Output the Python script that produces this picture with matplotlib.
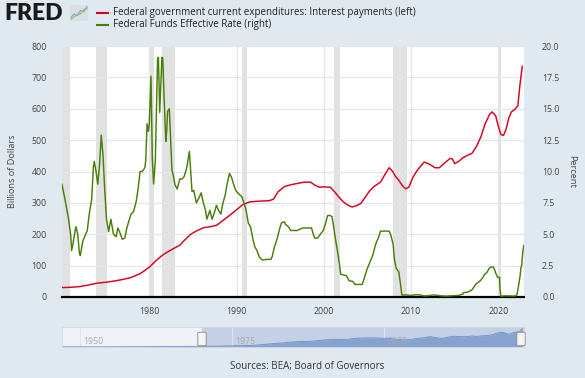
import matplotlib
matplotlib.use("Agg")
import matplotlib.pyplot as plt
from matplotlib.patches import FancyBboxPatch

plt.rcParams['font.family'] = ['Open Sans', 'DejaVu Sans']

# Federal government current expenditures: Interest payments (billions of $)
int_years = [1970.0, 1971.0, 1972.0, 1973.0, 1974.0, 1975.0, 1976.0, 1977.0, 1978.0, 1979.0,
             1980.0, 1980.75, 1981.5, 1982.0, 1982.75, 1983.5, 1984.0, 1984.75, 1985.5, 1986.25,
             1987.0, 1987.75, 1988.5, 1989.25, 1990.0, 1990.75, 1991.5, 1992.25, 1993.0, 1993.75,
             1994.25, 1994.75, 1995.5, 1996.25, 1997.0, 1997.75, 1998.5, 1999.0, 1999.5, 2000.0,
             2000.75, 2001.25, 2001.75, 2002.25, 2002.75, 2003.25, 2003.75, 2004.25, 2004.75, 2005.25,
             2005.75, 2006.5, 2007.0, 2007.5, 2007.9, 2008.2, 2008.6, 2009.0, 2009.4, 2009.75,
             2010.25, 2010.75, 2011.5, 2012.0, 2012.75, 2013.25, 2013.75, 2014.5, 2014.75, 2015.0,
             2015.5, 2015.9, 2016.5, 2017.0, 2017.5, 2018.0, 2018.5, 2019.0, 2019.3, 2019.7,
             2020.0, 2020.3, 2020.6, 2020.9, 2021.2, 2021.5, 2021.9, 2022.25, 2022.5, 2022.75]
int_values = [30, 31, 33, 38, 44, 47, 51, 56, 63, 75,
              95, 115, 133, 142, 154, 165, 180, 200, 212, 221,
              224, 229, 245, 261, 278, 295, 303, 305, 306, 307,
              312, 335, 352, 358, 362, 366, 366, 356, 350, 351,
              350, 335, 318, 303, 293, 287, 291, 298, 318, 338,
              352, 366, 390, 412, 400, 385, 372, 355, 345, 350,
              383, 405, 430, 425, 412, 412, 425, 442, 440, 425,
              433, 443, 452, 458, 480, 510, 552, 582, 590, 578,
              545, 518, 515, 535, 570, 590, 598, 610, 680, 735]

# earlier history, only shown in the range navigator
early_years = [1947, 1952, 1957, 1962, 1966, 1969]
early_values = [6, 7, 9, 12, 17, 27]

# Federal Funds Effective Rate (percent)
ffr_years = [1970.0, 1970.25, 1970.5, 1970.75, 1971.0, 1971.1, 1971.25, 1971.5, 1971.6, 1971.8,
             1972.0, 1972.1, 1972.4, 1972.6, 1972.9, 1973.1, 1973.4, 1973.6, 1973.7, 1973.9,
             1974.1, 1974.3, 1974.5, 1974.7, 1974.9, 1975.1, 1975.35, 1975.6, 1975.9, 1976.2,
             1976.4, 1976.6, 1976.9, 1977.2, 1977.4, 1977.6, 1977.9, 1978.2, 1978.5, 1978.7,
             1978.95, 1979.2, 1979.5, 1979.6, 1979.75, 1979.9, 1980.0, 1980.2, 1980.35, 1980.5,
             1980.7, 1980.95, 1981.05, 1981.2, 1981.45, 1981.55, 1981.7, 1981.9, 1982.0, 1982.1,
             1982.3, 1982.45, 1982.6, 1982.75, 1982.95, 1983.2, 1983.5, 1983.75, 1984.0, 1984.3,
             1984.6, 1984.9, 1985.1, 1985.4, 1985.7, 1985.95, 1986.2, 1986.45, 1986.6, 1986.95,
             1987.2, 1987.45, 1987.7, 1987.95, 1988.2, 1988.45, 1988.7, 1988.95, 1989.2, 1989.45,
             1989.7, 1989.95, 1990.2, 1990.6, 1990.95, 1991.1, 1991.35, 1991.6, 1991.95, 1992.1,
             1992.35, 1992.6, 1992.95, 1993.5, 1993.95, 1994.1, 1994.35, 1994.6, 1994.95, 1995.15,
             1995.5, 1995.6, 1995.95, 1996.2, 1996.6, 1996.95, 1997.25, 1997.6, 1997.95, 1998.3,
             1998.6, 1998.8, 1998.95, 1999.3, 1999.6, 1999.95, 2000.2, 2000.45, 2000.7, 2000.95,
             2001.05, 2001.3, 2001.5, 2001.7, 2001.9, 2001.95, 2002.3, 2002.6, 2002.9, 2003.3,
             2003.6, 2004.0, 2004.4, 2004.6, 2004.95, 2005.3, 2005.6, 2005.95, 2006.3, 2006.5,
             2007.0, 2007.5, 2007.7, 2007.95, 2008.1, 2008.3, 2008.6, 2008.8, 2008.95, 2009.5,
             2010.0, 2010.5, 2011.0, 2011.5, 2012.0, 2012.5, 2013.0, 2013.5, 2014.0, 2014.5,
             2015.0, 2015.5, 2015.95, 2016.0, 2016.5, 2016.95, 2017.2, 2017.45, 2017.95, 2018.2,
             2018.45, 2018.7, 2018.95, 2019.2, 2019.45, 2019.6, 2019.75, 2019.95, 2020.15, 2020.2,
             2020.3, 2020.6, 2021.0, 2021.5, 2022.0, 2022.15, 2022.3, 2022.4, 2022.5, 2022.6,
             2022.7, 2022.75, 2022.85, 2022.92]
ffr_values = [8.98, 8.1, 7.2, 6.2, 4.9, 3.7, 4.2, 5.3, 5.6, 5.0,
              3.5, 3.3, 4.5, 4.8, 5.3, 6.5, 7.8, 10.4, 10.8, 10.0,
              9.0, 10.5, 12.9, 11.3, 8.5, 6.2, 5.2, 6.2, 5.0, 4.8,
              5.5, 5.2, 4.6, 4.7, 5.4, 5.9, 6.6, 6.8, 7.6, 8.5,
              10.0, 10.0, 10.3, 10.9, 13.8, 13.2, 13.8, 17.6, 11.0, 9.0,
              10.9, 18.9, 19.1, 14.7, 19.1, 19.0, 15.9, 12.4, 13.2, 14.8,
              15.0, 12.6, 10.1, 9.7, 8.95, 8.6, 9.4, 9.4, 9.6, 10.3,
              11.6, 8.4, 8.5, 7.5, 7.9, 8.3, 7.5, 6.9, 6.2, 6.9,
              6.2, 6.7, 7.3, 6.9, 6.6, 7.5, 8.1, 9.1, 9.85, 9.5,
              8.9, 8.45, 8.25, 8.0, 7.3, 6.9, 5.9, 5.6, 4.4, 4.0,
              3.7, 3.2, 2.95, 3.0, 3.0, 3.25, 4.0, 4.5, 5.45, 5.9,
              6.0, 5.8, 5.6, 5.3, 5.3, 5.3, 5.4, 5.5, 5.5, 5.5,
              5.5, 5.0, 4.7, 4.7, 5.0, 5.3, 5.85, 6.5, 6.5, 6.4,
              5.98, 4.8, 3.97, 3.1, 2.1, 1.8, 1.75, 1.7, 1.3, 1.25,
              1.0, 1.0, 1.0, 1.4, 2.2, 2.8, 3.3, 4.2, 4.8, 5.25,
              5.25, 5.25, 4.9, 4.2, 3.0, 2.3, 2.0, 1.0, 0.16, 0.16,
              0.12, 0.18, 0.17, 0.09, 0.1, 0.16, 0.14, 0.09, 0.07, 0.09,
              0.11, 0.13, 0.24, 0.34, 0.39, 0.54, 0.79, 1.04, 1.3, 1.51,
              1.82, 1.95, 2.27, 2.41, 2.38, 2.13, 1.83, 1.55, 1.58, 0.65,
              0.05, 0.09, 0.09, 0.08, 0.08, 0.2, 0.77, 1.21, 1.68, 2.33,
              2.56, 3.08, 3.78, 4.10]

recessions = [(1969.9, 1970.9), (1973.9, 1975.2), (1980.0, 1980.5), (1981.5, 1982.9),
              (1990.6, 1991.2), (2001.2, 2001.9), (2007.9, 2009.5), (2020.1, 2020.3)]

x_ticks = [1980, 1990, 2000, 2010, 2020]
left_ticks = [0, 100, 200, 300, 400, 500, 600, 700, 800]
right_ticks = [0.0, 2.5, 5.0, 7.5, 10.0, 12.5, 15.0, 17.5, 20.0]

bg = '#e1e9f0'
red = '#d8001c'
green = '#4b7d0b'
txt = '#444444'
W, H = 585, 378

fig = plt.figure(figsize=(W / 100, H / 100), dpi=100, facecolor=bg)

def px(l, t, r, b):
    return [l / W, 1 - b / H, (r - l) / W, (b - t) / H]

ax = fig.add_axes(px(62, 46, 524, 297))
ax.set_facecolor('white')
for a, b in recessions:
    ax.axvspan(a, b, color='#e1e1e1', lw=0, zorder=0)
ax.set_xlim(1970.0, 2022.95)
ax.set_ylim(0, 800)
ax.set_yticks(left_ticks)
ax.set_xticks(x_ticks)
ax.grid(True, color='#e6e6e6', lw=0.9, zorder=0.5)
ax.set_axisbelow(True)
ax.plot(int_years, int_values, color=red, lw=1.05, zorder=3)
ax.tick_params(axis='both', length=0, labelsize=6.3, labelcolor=txt)
ax.tick_params(axis='y', pad=11)
ax.tick_params(axis='x', pad=7)
for s in ['top', 'left', 'right']:
    ax.spines[s].set_visible(False)
ax.spines['bottom'].set_color('black')
ax.spines['bottom'].set_linewidth(1.6)
ax.set_ylabel('Billions of Dollars', fontsize=6.6, color=txt, labelpad=10)

ax2 = ax.twinx()
ax2.set_ylim(0, 20)
ax2.set_yticks(right_ticks)
ax2.set_yticklabels([f'{v:.1f}' for v in right_ticks])
ax2.plot(ffr_years, ffr_values, color=green, lw=1.05, zorder=3)
ax2.tick_params(axis='y', length=0, labelsize=6.3, labelcolor=txt, pad=13)
for s in ax2.spines.values():
    s.set_visible(False)
ax2.set_ylabel('Percent', fontsize=6.6, color=txt, rotation=270, labelpad=12)

# legend / header
fig.text(4 / W, 1 - 13 / H, 'FRED', fontsize=16.5, fontweight='heavy', color='#1a1a1a',
         family=['Lato', 'DejaVu Sans'], va='center', ha='left')
icon = fig.add_axes(px(70, 5, 88, 21))
icon.set_facecolor('#d9dee3')
icon.plot([0, 1, 2, 3, 4, 5], [1, 2, 1.5, 3, 2.6, 4], color='#7fa3d3', lw=0.8)
icon.plot([0, 1, 2, 3, 4, 5], [0.5, 1.2, 1.8, 2.0, 3.2, 3.6], color='#8fbf64', lw=0.8)
icon.set_xlim(-0.3, 5.3)
icon.set_ylim(0, 4.5)
icon.set_xticks([])
icon.set_yticks([])
for s in icon.spines.values():
    s.set_visible(False)

fig.add_artist(plt.Line2D([97 / W, 108 / W], [1 - 13 / H] * 2, color=red, lw=1.5))
fig.add_artist(plt.Line2D([97 / W, 108 / W], [1 - 25 / H] * 2, color=green, lw=1.5))
fig.text(113 / W, 1 - 13 / H, 'Federal government current expenditures: Interest payments (left)',
         fontsize=7, color='#222222', va='center')
fig.text(113 / W, 1 - 25 / H, 'Federal Funds Effective Rate (right)',
         fontsize=7, color='#222222', va='center')

# range navigator
nav = fig.add_axes(px(62, 327, 524, 347))
nav.set_xlim(1947, 2023)
nav.set_ylim(0, 800)
nav.set_facecolor('#eef2f6')
nav.axvspan(1970.0, 2022.95, color='#c3d0e6', lw=0, zorder=0)
for yr in [1950, 1975, 2000]:
    nav.axvline(yr, color='#dde3ea', lw=0.8, zorder=0.5)
    nav.text(yr + 0.5, 60, str(yr), fontsize=6.3, color='#aaaaaa', va='bottom', ha='left')
nav_x = early_years + int_years
nav_y = early_values + int_values
nav.fill_between(nav_x, nav_y, 0, color='#7c9bcc', lw=0, zorder=1, alpha=0.85)
nav.plot(nav_x, nav_y, color='#6f8fc4', lw=0.6, zorder=2)
nav.set_xticks([])
nav.set_yticks([])
for s in nav.spines.values():
    s.set_color('#d0d8e2')
    s.set_linewidth(0.6)
for hx in [202, 521]:
    fig.add_artist(FancyBboxPatch(((hx - 3) / W, 1 - 345 / H), 6 / W, 12 / H,
                                  boxstyle='round,pad=0.002', fc='#f4f4f4', ec='#888888', lw=0.6))

fig.text(307 / W, 1 - 366 / H, 'Sources: BEA; Board of Governors', fontsize=7, color='#333333',
         ha='center', va='center')

fig.savefig('out.png', dpi=100, facecolor=bg)
